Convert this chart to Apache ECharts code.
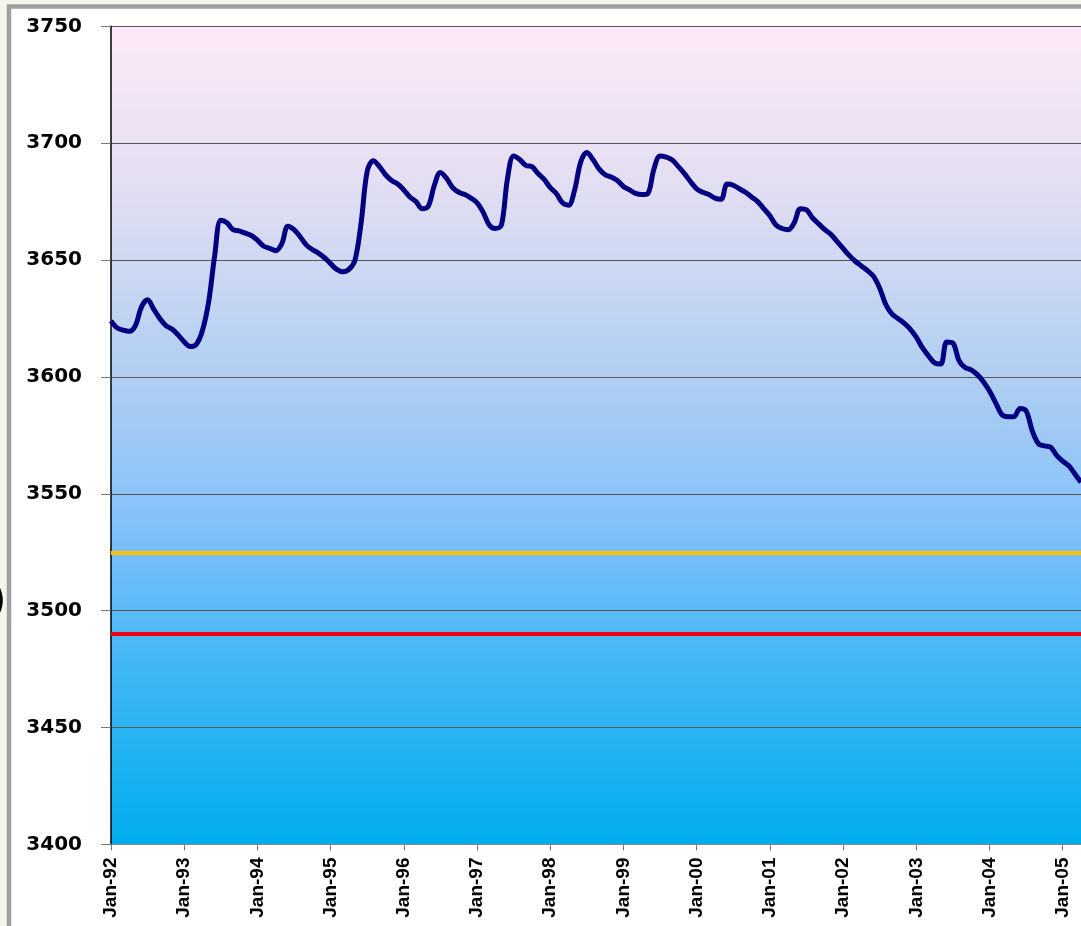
<!DOCTYPE html>
<html>
<head>
<meta charset="utf-8">
<script src="https://cdn.jsdelivr.net/npm/echarts@6/dist/echarts.min.js"></script>
<style>
html,body{margin:0;padding:0;background:#f6f6ec;}
#c{width:1081px;height:926px;}
</style>
</head>
<body>
<div id="c"></div>
<script>
// Monthly values, Jan-92 .. Apr-05
var values = [
3624,3621,3620,3619.5,3622,3630,3633,3629,3625,3622,3620.5,3618,
3615,3613,3614,3620,3632,3652,3667,3666,3663,3662.5,3661.5,3660.5,
3658.5,3656,3655,3654,3657,3664.5,3663,3660,3656.5,3654.5,3653,3651,
3648.5,3646,3645,3646,3650,3666,3688,3692.5,3690,3686.5,3684,3682.5,
3680,3677,3675,3672,3673,3682,3687.5,3685,3681,3679,3678,3676.5,
3674.5,3670.5,3665,3663.5,3665,3685,3694.5,3693,3690.5,3690,3687,3684.5,
3681,3678.5,3674.5,3673.5,3680,3692,3696,3693,3689,3686.5,3685.5,3684,
3681.5,3680,3678.5,3678,3678.5,3689,3694.5,3694,3692.8,3690,3687,3683.5,
3680.5,3679,3678,3676.5,3676,3682.5,3682,3680.5,3679,3677,3675,3672,
3669,3665,3663.5,3663,3666,3672,3671.5,3668,3665.5,3663,3661,3658,
3655,3652,3649.5,3647.5,3645.5,3643,3638,3631,3627,3625,3623,3620.5,
3617,3612.5,3609,3606,3605.5,3615,3614.5,3607,3604,3603,3601,3598,
3594,3589,3584,3583,3583,3586.5,3585.5,3577,3571.5,3570.5,3570,3566.5,
3564,3562,3558.5,3555
];
var monthNames = ['Jan','Feb','Mar','Apr','May','Jun','Jul','Aug','Sep','Oct','Nov','Dec'];
var years = ['92','93','94','95','96','97','98','99','00','01','02','03','04','05'];
var yTicks = {min:3400, max:3750, interval:50};
var refLines = [3525, 3490];

var categories = [];
for (var i = 0; i < values.length; i++) {
  categories.push(monthNames[i % 12] + '-' + years[Math.floor(i / 12)]);
}

var chart = echarts.init(document.getElementById('c'), null, {renderer:'canvas'});
chart.setOption({
  backgroundColor: '#f6f6ec',
  animation: false,
  graphic: [
    {type:'rect', shape:{x:9, y:6.5, width:1200, height:1100}, style:{fill:'#ffffff', stroke:'#a0a0a0', lineWidth:4.5}, z:-10},
    {type:'text', x:-12, y:603, style:{text:')', fontSize:40, fontFamily:'DejaVu Sans', fontWeight:'bold', fill:'#000', textVerticalAlign:'middle', verticalAlign:'middle'}, z:10}
  ],
  grid: {
    left:111, top:26.3, right:0, bottom:81.5,
    show:true, borderWidth:0,
    backgroundColor: {
      type:'linear', x:0, y:0, x2:0, y2:1,
      colorStops:[
        {offset:0, color:'#fdeaf8'},
        {offset:0.2, color:'#e2def2'},
        {offset:0.45, color:'#abcdf2'},
        {offset:0.6, color:'#86c1fb'},
        {offset:0.78, color:'#42b6f4'},
        {offset:1, color:'#00adee'}
      ]
    }
  },
  xAxis: {
    type:'category', data:categories, boundaryGap:false,
    axisLine:{show:true, lineStyle:{color:'#888', width:1}},
    axisTick:{show:true, interval:11, length:6, lineStyle:{color:'#777'}},
    axisLabel:{interval:11, rotate:90, margin:13, color:'#000', fontFamily:'Liberation Sans', fontWeight:'bold', fontSize:19},
    splitLine:{show:false}
  },
  yAxis: {
    type:'value', min:yTicks.min, max:yTicks.max, interval:yTicks.interval,
    axisLine:{show:true, lineStyle:{color:'#000', width:1.5}},
    axisTick:{show:true, length:10, lineStyle:{color:'#777'}},
    axisLabel:{margin:29, color:'#000', fontFamily:'DejaVu Sans', fontWeight:'bold', fontSize:20,
      formatter:function(v){ return String(v); }},
    splitLine:{show:true, lineStyle:{color:'#555', width:1}}
  },
  series: [{
    type:'line', data:values, symbol:'none', smooth:0.35,
    lineStyle:{color:'#000080', width:5}, z:5,
    markLine:{
      silent:true, symbol:'none', label:{show:false},
      data:[
        {yAxis:refLines[0], lineStyle:{color:'#ffc000', width:4, type:'solid'}},
        {yAxis:refLines[1], lineStyle:{color:'#ee0010', width:4, type:'solid'}}
      ]
    }
  }]
});
</script>
</body>
</html>
